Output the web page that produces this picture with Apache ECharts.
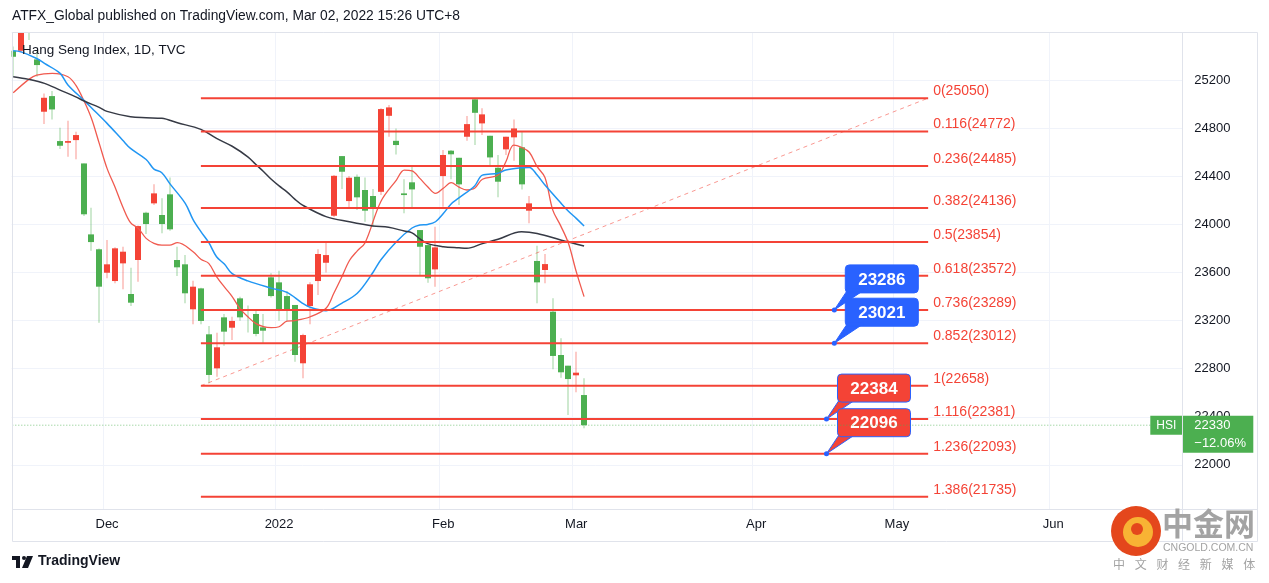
<!DOCTYPE html>
<html><head><meta charset="utf-8">
<script src="https://cdn.jsdelivr.net/npm/echarts@6/dist/echarts.min.js"></script>
<style>html,body{margin:0;padding:0;background:#fff;}#c{width:1269px;height:583px;}</style>
</head><body><div id="c"></div>
<script>
// ---------- categories (HK trading days) ----------
const START_DATE = '2021-11-15';
const HOLIDAYS = ['2021-12-27','2022-02-01','2022-02-02','2022-02-03','2022-04-05','2022-04-15','2022-04-18','2022-05-02','2022-05-09','2022-06-03'];
const N_CATEGORIES = 150;
function buildCategories(){
  const out=[]; const d=new Date(START_DATE+'T00:00:00Z');
  while(out.length<N_CATEGORIES){
    const wd=d.getUTCDay(); const s=d.toISOString().slice(0,10);
    if(wd!==0&&wd!==6&&HOLIDAYS.indexOf(s)<0) out.push(s);
    d.setUTCDate(d.getUTCDate()+1);
  }
  return out;
}
const categories = buildCategories();

// ---------- OHLC (Nov 15 2021 .. Mar 2 2022) ----------
const opens  = [25444,25444,25700,25372,24937,25067,24693,24679,24701,24507,23917,23793,23598,23529,23676,23421,23704,24097,24175,24078,24250,23704,23668,23294,23468,23086,22803,23227,23141,23385,23290,23255,23144,23560,23518,23404,23330,22845,23321,23529,23681,24072,24568,24194,24396,24286,24236,24271,24903,24695,24258,24350,23953,23828,23626,24402,24613,24554,24729,25040,24840,24737,24471,24624,24724,24641,24114,23696,23621,23274,22914,22825,22745,22581];
const highs  = [25480,25750,25740,25449,25089,25109,24803,24862,24770,24507,24139,23800,23870,23810,23814,23640,23990,24105,24333,24217,24391,23814,23745,23532,23474,23155,23100,23255,23232,23399,23326,23290,23255,23593,23615,23446,23330,23090,23518,23793,23856,24410,24568,24402,24416,24391,24294,24965,24992,24798,24375,24485,23953,23828,23981,24618,24618,24554,24901,25050,24965,24737,24577,24729,24873,24770,24236,23823,23754,23385,23053,22825,22941,22720];
const lows   = [25230,25430,25533,25227,24834,24873,24626,24562,24541,24070,23781,23182,23552,23510,23460,23321,23523,23920,24161,23926,23947,23571,23344,23169,23169,22679,22734,22991,23039,23199,23102,23070,23005,23393,23199,23199,22858,22720,23169,23413,23601,24059,24294,24142,24119,24022,23980,24244,24729,24582,24092,24142,23579,23515,23482,24147,24375,24161,24695,24660,24743,24493,24225,24577,24529,24291,24009,23344,23510,22795,22725,22415,22604,22305];
const closes = [25394,25713,25650,25325,25053,24956,24654,24693,24743,24084,23853,23482,23668,23801,23773,23349,23986,24003,24258,24003,23959,23643,23427,23482,23197,22748,22978,23108,23197,23227,23280,23089,23116,23404,23282,23294,22914,23080,23502,23754,23745,24404,24438,24388,24225,24114,24133,24959,24973,24660,24244,24291,23814,23552,23809,24577,24583,24333,24834,24928,24915,24557,24355,24729,24798,24333,24175,23518,23670,22906,22770,22714,22767,22330];

const ma10 = [25094,null,25206,25242,null,25256,null,25228,25158,25034,24882,24674,24466,24313,24147,24014,23967,23884,23843,23828,23828,23848,null,23773,23710,23676,23566,23480,23400,23300,23232,23177,23149,23141,23149,23195,23200,null,23232,null,23302,23427,23560,23700,23780,23848,null,24189,null,24369,24452,24446,24383,24313,24258,24300,24347,24310,24286,24300,24375,null,24410,24521,24660,24641,24600,24480,24390,24119,23990,23843,23607,23399];
const ma20 = [25444,25435,null,25380,25339,null,25256,25160,null,25034,24970,null,24840,null,24700,24632,null,24540,24460,24430,24341,null,24175,24040,23940,23850,23731,23670,23590,null,23530,null,null,23470,null,23435,null,23344,23310,null,23282,null,23344,null,23427,null,23600,23704,null,23856,null,23970,23995,24000,24022,24090,24170,24220,null,24320,24410,null,24425,24452,null,24471,24474,24410,24327,null,24180,24110,24050,23986];
const ma50 = [25228,null,25206,null,25173,null,25117,null,25061,25028,null,24973,24940,null,null,24895,null,24887,null,24882,null,24845,null,null,24790,null,24715,null,24650,null,24562,24500,24440,24375,24320,24271,24210,24160,null,null,24065,null,null,24022,null,null,23987,null,23976,null,23945,23930,23880,23840,null,23815,null,23805,23801,null,23840,null,23876,null,null,23939,null,23925,null,null,23870,null,null,23820];

// ---------- Fibonacci drawing ----------
const fibRatios = ['0','0.116','0.236','0.382','0.5','0.618','0.736','0.852','1','1.116','1.236','1.386'];
const fibLevels = [25050,24772,24485,24136,23854,23572,23289,23012,22658,22381,22093,21735];
const FIB_START = '2021-12-17';
const FIB_END = '2022-05-10';

// ---------- callouts ----------
const calloutDates   = ['2022-04-20','2022-04-20','2022-04-19','2022-04-19'];
const calloutAnchors = [23289,23012,22381,22093];
const calloutTexts   = ['23286','23021','22384','22096'];
const calloutKinds   = ['blue','blue','red','red'];

// ---------- axes ----------
const yTicks = [22000,22400,22800,23200,23600,24000,24400,24800,25200];
const xTickDates  = ['2021-12-01','2022-01-03','2022-02-04','2022-03-01','2022-04-01','2022-05-03','2022-06-01'];
const xTickLabels = ['Dec','2022','Feb','Mar','Apr','May','Jun'];
const lastPrice = 22330;
const lastChange = '\u221212.06%';
const symbolName = 'HSI';
const watermarkChars = ['中','文','财','经','新','媒','体'];

// ---------- styles ----------
const RED = '#f44336', GREEN = '#4caf50';
const RED_WICK = 'rgba(244,67,54,0.55)', GREEN_WICK = 'rgba(76,175,80,0.55)';
const BLUE = '#2962ff';
const FONT = '"Liberation Sans", Arial, sans-serif';
const CJK = '"Noto Sans CJK SC", sans-serif';
const TXT = '#131722';
const GRIDC = '#f0f3fa';
const BORDER = '#e0e3eb';

const candleData = opens.map((o,i)=>[i,o,closes[i],lows[i],highs[i]]);
const idx = d => categories.indexOf(d);
const tickIdx = xTickDates.map(idx);

const chart = echarts.init(document.getElementById('c'), null, {renderer:'canvas'});

function renderCandle(params, api){
  const i=api.value(0), o=api.value(1), c=api.value(2), l=api.value(3), h=api.value(4);
  const po=api.coord([i,o]), pc=api.coord([i,c]), pl=api.coord([i,l]), ph=api.coord([i,h]);
  const up = c>=o;
  const x = Math.round(po[0]);
  const top=Math.min(po[1],pc[1]), bot=Math.max(po[1],pc[1]);
  return {type:'group', children:[
    {type:'rect', shape:{x:x-0.5, y:ph[1], width:1, height:Math.max(1,pl[1]-ph[1])}, style:{fill: up?RED_WICK:GREEN_WICK}},
    {type:'rect', shape:{x:x-3, y:top, width:6, height:Math.max(1,bot-top)}, style:{fill: up?RED:GREEN}}
  ]};
}

function renderFib(params, api){
  const lv = api.value(1);
  const a = api.coord([idx(FIB_START), lv]), b = api.coord([idx(FIB_END), lv]);
  const children = [
    {type:'line', shape:{x1:a[0], y1:a[1], x2:b[0], y2:b[1]}, style:{stroke:RED, lineWidth:2}},
    {type:'text', x:b[0]+5, y:b[1]-7, style:{text: fibRatios[params.dataIndex]+'('+lv+')', fill:RED, font:'14px '+FONT, verticalAlign:'middle', align:'left'}}
  ];
  if(params.dataIndex===0){
    const s = api.coord([idx(FIB_START), fibLevels[8]]);
    children.unshift({type:'line', shape:{x1:s[0], y1:s[1], x2:b[0], y2:b[1]}, style:{stroke:'rgba(244,67,54,0.55)', lineWidth:1, lineDash:[4,4]}});
  }
  return {type:'group', children};
}

function renderCallout(params, api){
  const k = params.dataIndex;
  const a = api.coord([api.value(0), api.value(1)]);
  const fill = calloutKinds[k]==='blue' ? BLUE : RED;
  const bx = a[0]+11, by = a[1]-45, bw = 73, bh = 28;
  return {type:'group', children:[
    {type:'polygon', shape:{points:[[bx+1,by+bh-1],[bx+16,by+bh-1],[a[0],a[1]]]}, style:{fill:fill, stroke:BLUE, lineWidth:1}},
    {type:'rect', shape:{x:bx, y:by, width:bw, height:bh, r:4}, style:{fill:fill, stroke:BLUE, lineWidth:1}},
    {type:'rect', shape:{x:bx+2, y:by+bh-4, width:16, height:3}, style:{fill:fill}},
    {type:'text', x:bx+bw/2, y:by+bh/2+1, style:{text:calloutTexts[k], fill:'#fff', font:'bold 17px '+FONT, align:'center', verticalAlign:'middle'}},
    {type:'circle', shape:{cx:a[0], cy:a[1], r:2.5}, style:{fill:BLUE}}
  ]};
}

function renderPriceTag(params, api){
  const cs = params.coordSys;
  const y = api.coord([0, api.value(1)])[1];
  const right = cs.x + cs.width;
  const ttop = y-9.5;
  return {type:'group', children:[
    {type:'line', shape:{x1:cs.x, y1:y, x2:right, y2:y}, style:{stroke:'rgba(76,175,80,0.7)', lineWidth:1, lineDash:[1,2]}},
    {type:'rect', shape:{x:right-32, y:ttop, width:32, height:19}, style:{fill:GREEN}},
    {type:'text', x:right-16, y:y, style:{text:symbolName, fill:'#fff', font:'12px '+FONT, align:'center', verticalAlign:'middle'}},
    {type:'rect', shape:{x:right, y:ttop, width:71, height:37}, style:{fill:GREEN}},
    {type:'text', x:right+12, y:y, style:{text:String(api.value(1)), fill:'#fff', font:'13px '+FONT, align:'left', verticalAlign:'middle'}},
    {type:'text', x:right+12, y:y+18, style:{text:lastChange, fill:'#fff', font:'13px '+FONT, align:'left', verticalAlign:'middle'}}
  ]};
}

const graphics = [
  {type:'rect', shape:{x:0,y:28,width:11.5,height:520}, style:{fill:'#fff'}, z:100},
  {type:'rect', shape:{x:9,y:509.5,width:1180,height:6}, style:{fill:'#fff'}, z:1},
  {type:'line', shape:{x1:12.5,y1:32.5,x2:1257.5,y2:32.5}, style:{stroke:BORDER}, z:101},
  {type:'line', shape:{x1:12.5,y1:32.5,x2:12.5,y2:541.5}, style:{stroke:BORDER}, z:101},
  {type:'line', shape:{x1:1257.5,y1:32.5,x2:1257.5,y2:541.5}, style:{stroke:BORDER}, z:101},
  {type:'line', shape:{x1:1182.5,y1:32.5,x2:1182.5,y2:541.5}, style:{stroke:BORDER}, z:101},
  {type:'line', shape:{x1:12.5,y1:509.5,x2:1257.5,y2:509.5}, style:{stroke:BORDER}, z:101},
  {type:'line', shape:{x1:12.5,y1:541.5,x2:1257.5,y2:541.5}, style:{stroke:BORDER}, z:101},
  {type:'text', left:12, top:9, style:{text:'ATFX_Global published on TradingView.com, Mar 02, 2022 15:26 UTC+8', fill:TXT, font:'13.8px '+FONT}, z:101},
  {type:'text', left:22, top:43, style:{text:'Hang Seng Index, 1D, TVC', fill:TXT, font:'13.5px '+FONT}, z:101},
  {type:'group', left:12, top:556, z:101, children:[
    {type:'rect', shape:{x:0,y:0,width:8,height:4}, style:{fill:TXT}},
    {type:'rect', shape:{x:4,y:0,width:4,height:12}, style:{fill:TXT}},
    {type:'circle', shape:{cx:12,cy:2,r:2}, style:{fill:TXT}},
    {type:'polygon', shape:{points:[[15,0],[21,0],[16,12],[10,12]]}, style:{fill:TXT}}
  ]},
  {type:'text', left:38, top:554, style:{text:'TradingView', fill:TXT, font:'bold 14px '+FONT}, z:101},
  {type:'circle', shape:{cx:1136,cy:531,r:25}, style:{fill:'#e4471c'}, z:102},
  {type:'circle', shape:{cx:1138,cy:532,r:15}, style:{fill:'#f8b334'}, z:102},
  {type:'circle', shape:{cx:1137,cy:529,r:6}, style:{fill:'#e4471c'}, z:102},
  {type:'text', left:1162, top:508, style:{text:'中金网', fill:'#a3a3a3', font:'bold 31px '+CJK}, z:102},
  {type:'text', left:1163, top:543, style:{text:'CNGOLD.COM.CN', fill:'#a3a3a3', font:'10.5px '+FONT}, z:102}
];
watermarkChars.forEach((ch,k)=>{
  graphics.push({type:'text', left:1113+k*21.7, top:558, style:{text:ch, fill:'#a3a3a3', font:'12px '+CJK}, z:102});
});

const option = {
  animation:false,
  backgroundColor:'#ffffff',
  grid:{left:9.3, right:86.7, top:32, bottom:70, containLabel:false},
  xAxis:{
    type:'category', data:categories, boundaryGap:true,
    axisLine:{show:false}, axisTick:{show:false},
    axisLabel:{
      interval:(i)=>tickIdx.indexOf(i)>=0,
      formatter:(v)=>{const k=xTickDates.indexOf(v); return k>=0?xTickLabels[k]:'';},
      color:TXT, fontSize:13, fontFamily:FONT, margin:5
    },
    splitLine:{show:true, interval:(i)=>tickIdx.indexOf(i)>=0, lineStyle:{color:GRIDC, width:1}}
  },
  yAxis:{
    type:'value', position:'right', min:21600, max:25600, interval:400, scale:true,
    axisLine:{show:false}, axisTick:{show:false},
    axisLabel:{formatter:(v)=>yTicks.indexOf(v)>=0?String(v):'', color:TXT, fontSize:13, fontFamily:FONT, margin:12},
    splitLine:{show:true, lineStyle:{color:GRIDC, width:1}}
  },
  series:[
    {type:'custom', name:'candles', renderItem:renderCandle, data:candleData, encode:{x:0, y:[1,2,3,4]}, clip:true, z:2},
    {type:'line', name:'MA10', data:ma10, connectNulls:true, smooth:0.35, showSymbol:false, lineStyle:{color:'#f05a4f', width:1.3}, z:3},
    {type:'line', name:'MA20', data:ma20, connectNulls:true, smooth:0.35, showSymbol:false, lineStyle:{color:'#2196f3', width:1.5}, z:3},
    {type:'line', name:'MA50', data:ma50, connectNulls:true, smooth:0.35, showSymbol:false, lineStyle:{color:'#363a45', width:1.5}, z:3},
    {type:'custom', name:'fib', renderItem:renderFib, data:fibLevels.map(v=>[FIB_START, v]), clip:false, z:4},
    {type:'custom', name:'callouts', renderItem:renderCallout, data:calloutDates.map((d,k)=>[d, calloutAnchors[k]]), clip:false, z:5},
    {type:'custom', name:'price', renderItem:renderPriceTag, data:[[0,lastPrice]], clip:false, z:6}
  ],
  graphic:graphics
};
chart.setOption(option);
</script>
</body></html>
